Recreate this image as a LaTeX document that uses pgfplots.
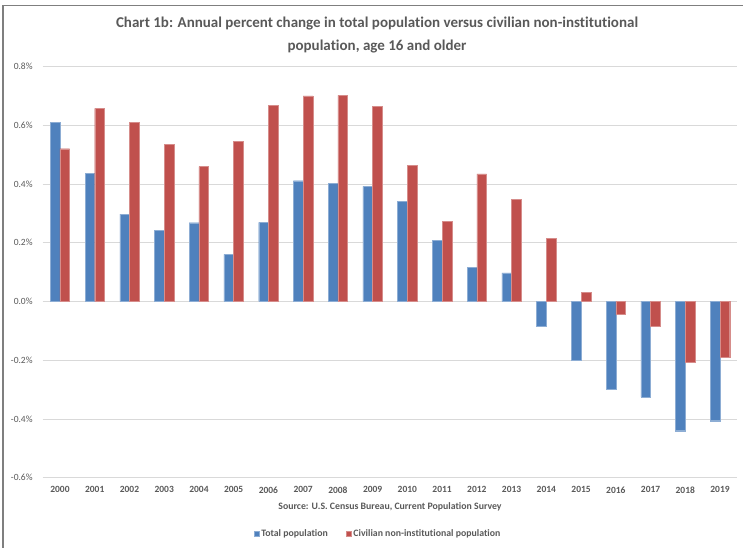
\documentclass[border=0pt]{standalone}
\usepackage{pgfplots}
\pgfplotsset{compat=1.18}
\usepackage{fontspec}
\setmainfont{Carlito}[Ligatures={NoCommon}]
\definecolor{blueS}{HTML}{4F81BD}
\definecolor{redS}{HTML}{C0504D}
\definecolor{txt}{HTML}{595959}
\definecolor{gridc}{HTML}{D9D9D9}
\definecolor{framec}{HTML}{7F7F7F}
\begin{document}
\begin{tikzpicture}[x=1bp,y=1bp]
\useasboundingbox (0,0) rectangle (743,548);
\draw[framec, line width=1.3bp] (3,0) -- (3,542.3) -- (743,542.3);
\begin{axis}[
  at={(42.6bp,70.3bp)}, anchor=south west,
  scale only axis, width=694.8bp, height=411.2bp,
  ybar=0pt, bar width=9.7bp,
  ymin=-0.6, ymax=0.8,
  ytick={-0.6,-0.4,-0.2,0,0.2,0.4,0.6,0.8},
  xmin=-0.5, xmax=19.5,
  xtick={0,...,19},
  xticklabels={2000,2001,2002,2003,2004,2005,2006,2007,2008,2009,2010,2011,2012,2013,2014,2015,2016,2017,2018,2019},
  /pgf/number format/assume math mode=true,
  yticklabel={\pgfmathprintnumber[fixed,fixed zerofill,precision=1]{\tick}\%},
  xticklabel style={font=\bfseries\fontsize{9.5bp}{11bp}\selectfont, text=txt},
  yticklabel style={font=\fontsize{9.5bp}{11bp}\selectfont, text=txt},
  tick label style={/pgf/number format/assume math mode=true},
  major tick length=0pt,
  axis line style={draw=none},
  ymajorgrids, major grid style={draw=gridc, line width=0.9bp},
  xtick pos=bottom, ytick pos=left,
  x tick label style={yshift=-5.5bp},
  y tick label style={xshift=-6.5bp},
  legend style={at={(0.4827,-0.137)}, anchor=center, draw=none, fill=none,
    legend columns=2, font=\bfseries\fontsize{9.8bp}{11bp}\selectfont, text=txt,
    /tikz/every even column/.append style={column sep=16bp},
    inner sep=0pt},
  legend image code/.code={\fill[#1] (0bp,-2.6bp) rectangle (5.2bp,2.6bp);},
]
\addplot[fill=blueS, draw=blueS!65!white, line width=0.4bp] coordinates {
(0,0.609) (1,0.436) (2,0.297) (3,0.243) (4,0.268) (5,0.160) (6,0.269) (7,0.411) (8,0.402) (9,0.392)
(10,0.342) (11,0.209) (12,0.117) (13,0.097) (14,-0.084) (15,-0.199) (16,-0.300) (17,-0.326) (18,-0.440) (19,-0.406)};
\addlegendentry{Total population}
\addplot[fill=redS, draw=redS!65!white, line width=0.4bp] coordinates {
(0,0.520) (1,0.657) (2,0.609) (3,0.535) (4,0.459) (5,0.544) (6,0.667) (7,0.700) (8,0.702) (9,0.665)
(10,0.4625) (11,0.272) (12,0.434) (13,0.347) (14,0.216) (15,0.032) (16,-0.044) (17,-0.084) (18,-0.206) (19,-0.190)};
\addlegendentry{Civilian non-institutional population}
\end{axis}
\node[text=txt, font=\bfseries\fontsize{15bp}{23bp}\selectfont, align=center] at (377,512.5)
  {Chart 1b: Annual percent change in total population versus civilian non-institutional\\population, age 16 and older};
\node[text=txt, font=\bfseries\fontsize{9.8bp}{11bp}\selectfont] at (390,41) {Source: U.S. Census Bureau, Current Population Survey};
\end{tikzpicture}
\end{document}
